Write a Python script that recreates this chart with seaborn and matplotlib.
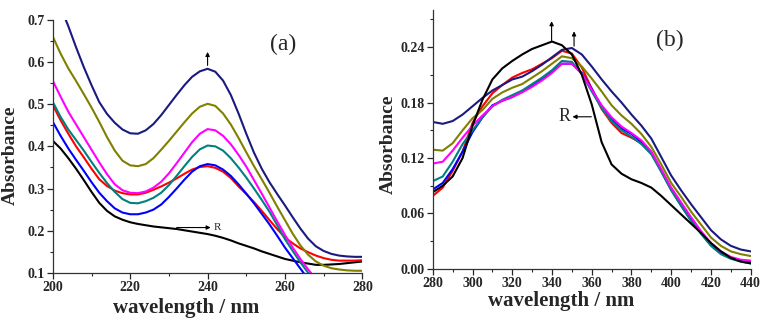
import numpy as np
import pandas as pd
import seaborn as sns
import matplotlib.pyplot as plt
from matplotlib.ticker import MultipleLocator

# --- panel (a) data ---
wl_a = list(range(200, 282, 2))
navy_a = [0.780, 0.730, 0.685, 0.635, 0.588, 0.545, 0.505, 0.477, 0.456, 0.440,
          0.431, 0.430, 0.438, 0.453, 0.474, 0.498, 0.522, 0.545, 0.565, 0.578,
          0.584, 0.577, 0.556, 0.522, 0.478, 0.430, 0.385, 0.347, 0.315, 0.287,
          0.260, 0.232, 0.205, 0.181, 0.163, 0.152, 0.145, 0.141, 0.139, 0.138, 0.138]
olive_a = [0.660, 0.620, 0.585, 0.555, 0.524, 0.492, 0.458, 0.422, 0.390, 0.366,
           0.355, 0.353, 0.358, 0.372, 0.392, 0.413, 0.435, 0.457, 0.478, 0.494,
           0.501, 0.496, 0.478, 0.452, 0.420, 0.386, 0.353, 0.322, 0.290, 0.257,
           0.225, 0.193, 0.165, 0.143, 0.127, 0.117, 0.111, 0.108, 0.106, 0.105, 0.105]
magenta_a = [0.555, 0.518, 0.482, 0.452, 0.422, 0.392, 0.362, 0.334, 0.310, 0.296,
             0.290, 0.289, 0.293, 0.302, 0.316, 0.336, 0.360, 0.385, 0.410, 0.430,
             0.441, 0.438, 0.425, 0.405, 0.380, 0.352, 0.320, 0.288, 0.255, 0.222,
             0.190, 0.160, 0.133, 0.108, 0.085, 0.065, 0.050, 0.040, 0.030, 0.025, 0.020]
teal_a = [0.505, 0.470, 0.440, 0.415, 0.390, 0.363, 0.337, 0.313, 0.292, 0.275,
          0.266, 0.265, 0.270, 0.278, 0.290, 0.308, 0.330, 0.353, 0.375, 0.393,
          0.402, 0.400, 0.390, 0.372, 0.350, 0.326, 0.300, 0.273, 0.245, 0.213,
          0.180, 0.152, 0.125, 0.100, 0.075, 0.055, 0.040, 0.030, 0.020, 0.015, 0.010]
red_a = [0.498, 0.462, 0.430, 0.400, 0.374, 0.347, 0.322, 0.306, 0.295, 0.289,
         0.286, 0.286, 0.290, 0.297, 0.305, 0.314, 0.324, 0.335, 0.345, 0.351,
         0.353, 0.349, 0.340, 0.325, 0.305, 0.287, 0.268, 0.247, 0.225, 0.204,
         0.184, 0.170, 0.158, 0.149, 0.141, 0.135, 0.131, 0.129, 0.129, 0.129, 0.130]
blue_a = [0.458, 0.425, 0.395, 0.368, 0.342, 0.315, 0.290, 0.270, 0.253, 0.243,
          0.239, 0.239, 0.243, 0.250, 0.262, 0.280, 0.300, 0.321, 0.340, 0.353,
          0.358, 0.355, 0.345, 0.330, 0.310, 0.288, 0.265, 0.240, 0.215, 0.188,
          0.160, 0.135, 0.110, 0.085, 0.060, 0.045, 0.030, 0.020, 0.015, 0.010, 0.005]
black_a = [0.413, 0.395, 0.372, 0.347, 0.320, 0.292, 0.266, 0.247, 0.234, 0.226,
           0.220, 0.216, 0.213, 0.210, 0.208, 0.206, 0.204, 0.201, 0.198, 0.195,
           0.192, 0.188, 0.183, 0.177, 0.170, 0.164, 0.158, 0.151, 0.145, 0.139,
           0.133, 0.129, 0.125, 0.122, 0.119, 0.119, 0.120, 0.121, 0.123, 0.125, 0.127]

# --- panel (b) data ---
wl_b = list(range(280, 445, 5))
black_b = [0.083, 0.090, 0.100, 0.120, 0.155, 0.183, 0.205, 0.217, 0.225, 0.232, 0.238,
           0.242, 0.246, 0.242, 0.232, 0.210, 0.178, 0.137, 0.113, 0.103, 0.097, 0.093,
           0.088, 0.079, 0.069, 0.059, 0.049, 0.039, 0.028, 0.019, 0.012, 0.008, 0.006]
navy_b = [0.159, 0.157, 0.160, 0.167, 0.176, 0.185, 0.193, 0.199, 0.205, 0.208, 0.214,
          0.221, 0.229, 0.237, 0.239, 0.232, 0.219, 0.205, 0.192, 0.180, 0.167, 0.155,
          0.141, 0.121, 0.101, 0.085, 0.070, 0.056, 0.042, 0.032, 0.025, 0.021, 0.019]
olive_b = [0.129, 0.128, 0.136, 0.150, 0.163, 0.172, 0.184, 0.191, 0.196, 0.200, 0.207,
           0.214, 0.222, 0.230, 0.228, 0.219, 0.206, 0.192, 0.177, 0.166, 0.157, 0.146,
           0.132, 0.113, 0.093, 0.078, 0.062, 0.048, 0.034, 0.025, 0.019, 0.016, 0.014]
magenta_b = [0.114, 0.116, 0.128, 0.142, 0.155, 0.166, 0.176, 0.182, 0.186, 0.191, 0.197,
             0.204, 0.212, 0.222, 0.222, 0.211, 0.194, 0.177, 0.164, 0.154, 0.147, 0.139,
             0.127, 0.108, 0.088, 0.072, 0.056, 0.041, 0.028, 0.019, 0.013, 0.010, 0.009]
teal_b = [0.095, 0.100, 0.116, 0.135, 0.150, 0.164, 0.176, 0.183, 0.188, 0.193, 0.200,
          0.207, 0.215, 0.225, 0.224, 0.211, 0.192, 0.174, 0.160, 0.150, 0.143, 0.135,
          0.124, 0.105, 0.085, 0.068, 0.052, 0.038, 0.025, 0.016, 0.011, 0.008, 0.006]
red_b = [0.079, 0.088, 0.106, 0.127, 0.158, 0.176, 0.190, 0.199, 0.207, 0.212, 0.216,
         0.222, 0.228, 0.236, 0.233, 0.218, 0.195, 0.173, 0.158, 0.147, 0.142, 0.136,
         0.126, 0.106, 0.086, 0.069, 0.053, 0.039, 0.026, 0.017, 0.012, 0.009, 0.007]
blue_b = [0.086, 0.093, 0.108, 0.127, 0.148, 0.164, 0.177, 0.182, 0.186, 0.192, 0.199,
          0.206, 0.214, 0.222, 0.222, 0.212, 0.195, 0.175, 0.162, 0.152, 0.146, 0.137,
          0.126, 0.106, 0.086, 0.069, 0.053, 0.039, 0.026, 0.017, 0.012, 0.009, 0.007]

colors = {'navy': '#1a1a80', 'olive': '#808000', 'magenta': '#ff00ff', 'teal': '#008080',
          'red': '#ff0000', 'blue': '#0000ff', 'black': '#000000'}

def long_frame(wl, series):
    rows = []
    for name, vals in series.items():
        rows.append(pd.DataFrame({'wavelength': wl, 'absorbance': vals, 'sample': name}))
    return pd.concat(rows, ignore_index=True)

df_a = long_frame(wl_a, {'black': black_a, 'red': red_a, 'blue': blue_a, 'teal': teal_a,
                         'magenta': magenta_a, 'olive': olive_a, 'navy': navy_a})
df_b = long_frame(wl_b, {'red': red_b, 'blue': blue_b, 'teal': teal_b, 'magenta': magenta_b,
                         'olive': olive_b, 'navy': navy_b, 'black': black_b})

sns.set_style('ticks')
plt.rcParams['font.family'] = ['Liberation Serif', 'DejaVu Serif']
plt.rcParams['font.weight'] = 'bold'

fig = plt.figure(figsize=(7.66, 3.26), dpi=100)
ax_a = fig.add_axes([0.069, 0.163, 0.404, 0.776])
ax_b = fig.add_axes([0.565, 0.175, 0.415, 0.794])

for ax, df in [(ax_a, df_a), (ax_b, df_b)]:
    sns.lineplot(data=df, x='wavelength', y='absorbance', hue='sample', palette=colors,
                 estimator=None, sort=False, legend=False, linewidth=1.5, ax=ax)
    sns.despine(ax=ax)
    for sp in ax.spines.values():
        sp.set_linewidth(0.9)
        sp.set_color('#333333')
    ax.tick_params(which='major', direction='out', length=4, width=0.9, labelsize=10, pad=2)
    ax.tick_params(which='minor', direction='out', length=2.5, width=0.8)
    ax.set_xlabel('wavelength / nm', fontsize=15, fontweight='bold')
    ax.set_ylabel('Absorbance', fontsize=14, fontweight='bold')

arrow = dict(arrowstyle='-|>', color='black', lw=0.8, mutation_scale=6, shrinkA=0, shrinkB=0)

# panel (a) axes
ax_a.set_xlim(200, 280)
ax_a.set_ylim(0.1, 0.7)
ax_a.xaxis.set_minor_locator(MultipleLocator(10))
ax_a.yaxis.set_minor_locator(MultipleLocator(0.05))
ax_a.set_xticks([200, 220, 240, 260, 280])
ax_a.set_xticklabels(['200', '220', '240', '260', '280'], fontweight='bold')
ax_a.set_yticks([0.1, 0.2, 0.3, 0.4, 0.5, 0.6, 0.7])
ax_a.set_yticklabels(['0.1', '0.2', '0.3', '0.4', '0.5', '0.6', '0.7'], fontweight='bold')
ax_a.xaxis.set_label_coords(0.43, -0.10)
ax_a.yaxis.set_label_coords(-0.11, 0.466)
ax_a.text(259.6, 0.641, '(a)', fontsize=17, fontweight='normal', ha='center', va='center')
ax_a.annotate('', xy=(240, 0.624), xytext=(240, 0.592), arrowprops=arrow)
ax_a.annotate('', xy=(240.8, 0.2075), xytext=(232, 0.2075), arrowprops=arrow)
ax_a.text(241.6, 0.2085, 'R', fontsize=8, fontweight='normal', ha='left', va='center')

# panel (b) axes
ax_b.set_xlim(280, 440)
ax_b.set_ylim(0, 0.28)
ax_b.xaxis.set_minor_locator(MultipleLocator(10))
ax_b.yaxis.set_minor_locator(MultipleLocator(0.03))
ax_b.set_xticks([280, 300, 320, 340, 360, 380, 400, 420, 440])
ax_b.set_xticklabels(['280', '300', '320', '340', '360', '380', '400', '420', '440'], fontweight='bold')
ax_b.set_yticks([0.0, 0.06, 0.12, 0.18, 0.24])
ax_b.set_yticklabels(['0.00', '0.06', '0.12', '0.18', '0.24'], fontweight='bold')
ax_b.xaxis.set_label_coords(0.405, -0.085)
ax_b.yaxis.set_label_coords(-0.113, 0.483)
ax_b.text(399.2, 0.2476, '(b)', fontsize=17, fontweight='normal', ha='center', va='center')
ax_b.annotate('', xy=(339.8, 0.268), xytext=(339.8, 0.247), arrowprops=arrow)
ax_b.annotate('', xy=(351.1, 0.257), xytext=(351.1, 0.241), arrowprops=arrow)
ax_b.annotate('', xy=(350.3, 0.1646), xytext=(359.8, 0.1646), arrowprops=arrow)
ax_b.text(349.2, 0.1646, 'R', fontsize=13, fontweight='normal', ha='right', va='center')

fig.savefig('out.png', dpi=100)
